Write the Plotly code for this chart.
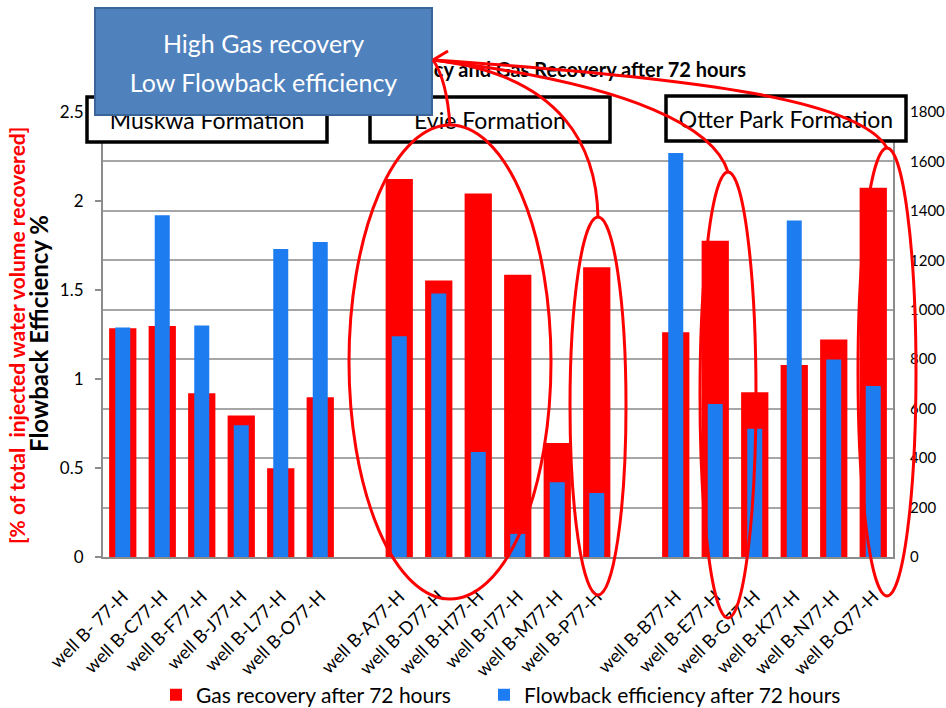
import plotly.graph_objects as go

# Wells grouped by formation
formations = ["Muskwa Formation", "Evie Formation", "Otter Park Formation"]
wells_muskwa = ["well B- 77-H", "well B-C77-H", "well B-F77-H", "well B-J77-H", "well B-L77-H", "well B-O77-H"]
wells_evie = ["well B-A77-H", "well B-D77-H", "well B-H77-H", "well B-I77-H", "well B-M77-H", "well B-P77-H"]
wells_otter = ["well B-B77-H", "well B-E77-H", "well B-G77-H", "well B-K77-H", "well B-N77-H", "well B-Q77-H"]

# Gas recovery after 72 hours (right axis)
gas_muskwa = [925, 934, 662, 572, 359, 646]
gas_evie = [1529, 1118, 1470, 1142, 461, 1172]
gas_otter = [909, 1279, 666, 777, 880, 1494]

# Flowback efficiency after 72 hours, % of injected water recovered (left axis)
fb_muskwa = [1.29, 1.92, 1.30, 0.74, 1.73, 1.77]
fb_evie = [1.24, 1.48, 0.59, 0.13, 0.42, 0.36]
fb_otter = [2.27, 0.86, 0.72, 1.89, 1.11, 0.96]

left_ticks = [0, 0.5, 1, 1.5, 2, 2.5]
left_ticktext = ["0", "0.5", "1", "1.5", "2", "2.5"]
right_ticks = list(range(0, 1801, 200))

groups = [wells_muskwa, wells_evie, wells_otter]
wells = wells_muskwa + wells_evie + wells_otter
gas = gas_muskwa + gas_evie + gas_otter
fb = fb_muskwa + fb_evie + fb_otter

# one empty slot between formations
xpos = []
for g, names in enumerate(groups):
    start = g * (len(names) + 1)
    xpos += [start + i for i in range(len(names))]
n_slots = xpos[-1] + 1

FONT = "Lato"
RED = "#ff0000"
BLUE = "#1c7cf0"

W, H = 946, 708
L, R, T, B = 103, 893, 112, 557


def fx(px):
    return (px - L) / (R - L)


def fy(py):
    return (B - py) / (B - T)


def path(points_cmds):
    out = []
    for cmd, pts in points_cmds:
        coords = " ".join(f"{fx(x):.5f},{fy(y):.5f}" for x, y in pts)
        out.append(f"{cmd} {coords}")
    return " ".join(out)


fig = go.Figure()
fig.add_trace(go.Bar(
    x=xpos, y=gas, name="Gas recovery after 72 hours",
    marker=dict(color=RED, line=dict(width=0)), width=0.69, yaxis="y", legend="legend",
))
fig.add_trace(go.Bar(
    x=xpos, y=fb, name="Flowback efficiency after 72 hours",
    marker=dict(color=BLUE, line=dict(width=0)), width=0.38, yaxis="y2", legend="legend2",
))

shapes = []


def box(px0, py0, px1, py1, fill, line_color, line_width, text="", size=23, color="black",
        pos="middle center"):
    shapes.append(dict(
        type="rect", xref="paper", yref="paper",
        x0=fx(px0), x1=fx(px1), y0=fy(py1), y1=fy(py0),
        fillcolor=fill, line=dict(color=line_color, width=line_width), layer="above",
        label=dict(text=text, font=dict(family=FONT, size=size, color=color), textposition=pos),
    ))


# chart title (partly hidden under the callout)
box(200, 57, 752, 81, "rgba(0,0,0,0)", "rgba(0,0,0,0)", 0,
    "<b>Flowback Efficiency and Gas Recovery after 72 hours</b>", 20, "black", "middle right")

# formation headers
box(87, 97, 327, 142, "white", "black", 3.5, formations[0])
box(370, 97, 610, 142, "white", "black", 3.5, formations[1])
box(666, 96, 906, 141, "white", "black", 3.5, formations[2])

# callout box
box(95, 8, 432, 115, "#4f81bd", "#3a6598", 2)
box(95, 24, 432, 62, "rgba(0,0,0,0)", "rgba(0,0,0,0)", 0, "High Gas recovery", 25, "white")
box(95, 63, 432, 101, "rgba(0,0,0,0)", "rgba(0,0,0,0)", 0, "Low Flowback efficiency", 25, "white")

# highlight rings
ring_style = dict(color=RED, width=3)
for cx, cy, rx, ry in [(450, 362, 101, 237), (598, 406, 28, 189), (728, 395, 28, 223), (887, 372, 29, 224)]:
    shapes.append(dict(type="circle", xref="paper", yref="paper",
                       x0=fx(cx - rx), x1=fx(cx + rx), y0=fy(cy + ry), y1=fy(cy - ry),
                       line=ring_style, layer="above"))

# arrows pointing back to the callout
tip = (433, 60)
curves = [
    [("M", [(450, 126)]), ("Q", [(447, 80), tip])],
    [("M", [(598, 218)]), ("C", [(597, 150), (565, 75), tip])],
    [("M", [(728, 172)]), ("C", [(715, 130), (640, 85), tip])],
    [("M", [(887, 148)]), ("C", [(860, 100), (700, 78), tip])],
    [("M", [(448, 51)]), ("L", [tip, (448, 68)])],
]
for c in curves:
    shapes.append(dict(type="path", xref="paper", yref="paper", path=path(c),
                       line=ring_style, layer="above"))

legend_style = dict(
    orientation="h", xanchor="left", yanchor="middle", y=fy(695),
    font=dict(size=21, family=FONT, color="black"), bgcolor="rgba(0,0,0,0)", itemwidth=30,
)

fig.update_layout(
    width=W, height=H,
    margin=dict(l=L, r=W - R, t=T, b=H - B, pad=0, autoexpand=False),
    paper_bgcolor="white", plot_bgcolor="white",
    barmode="overlay",
    showlegend=True,
    font=dict(family=FONT, size=16, color="black"),
    xaxis=dict(
        range=[-0.5, n_slots - 0.5], tickmode="array", tickvals=xpos, ticktext=wells,
        tickangle=-45, showgrid=False, zeroline=False, showline=True, linecolor="#8c8c8c",
        linewidth=2, ticks="", ticklabelstandoff=20, automargin=False,
        tickfont=dict(size=18, family=FONT, color="black"),
    ),
    yaxis=dict(
        range=[0, 1800], tickvals=right_ticks, side="right", showgrid=True,
        gridcolor="#a6a6a6", gridwidth=1.5, zeroline=False, showline=True,
        linecolor="#8c8c8c", linewidth=2, ticks="", ticklabelstandoff=12, automargin=False,
        tickfont=dict(size=15, family=FONT, color="black"),
    ),
    yaxis2=dict(
        range=[0, 2.5], tickvals=left_ticks, ticktext=left_ticktext, side="left",
        overlaying="y", showgrid=False, zeroline=False, showline=True,
        linecolor="#8c8c8c", linewidth=2, ticks="outside", ticklen=6, tickcolor="#8c8c8c",
        tickwidth=1.5, ticklabelstandoff=8, automargin=False,
        tickfont=dict(size=17, family=FONT, color="black"),
    ),
    legend=dict(legend_style, x=fx(156)),
    legend2=dict(legend_style, x=fx(484)),
    shapes=shapes,
    annotations=[
        dict(text="<b>Flowback Efficiency %</b>", xref="paper", yref="paper",
             x=fx(38), y=fy(334), textangle=-90, showarrow=False,
             font=dict(size=24, family=FONT, color="black"), xanchor="center", yanchor="middle"),
        dict(text="<b>[% of total  injected water volume recovered]</b>", xref="paper", yref="paper",
             x=fx(16), y=fy(336), textangle=-90, showarrow=False,
             font=dict(size=21, family=FONT, color=RED), xanchor="center", yanchor="middle"),
    ],
)

fig.write_html("out.html")
